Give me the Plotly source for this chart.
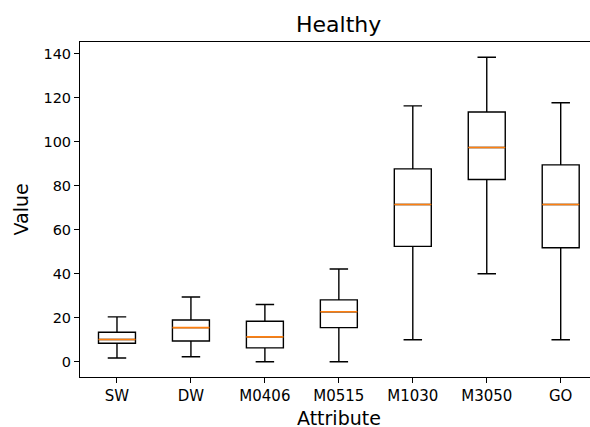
import plotly.graph_objects as go

categories = ["SW", "DW", "M0406", "M0515", "M1030", "M3050", "GO"]
lower_whisker = [1.7, 2.3, 0.0, 0.0, 10.0, 40.0, 10.0]
q1_values = [8.4, 9.4, 6.3, 15.5, 52.4, 82.8, 51.8]
medians = [10.1, 15.5, 11.3, 22.7, 71.4, 97.3, 71.4]
q3_values = [13.4, 19.0, 18.4, 28.1, 87.6, 113.4, 89.4]
upper_whisker = [20.4, 29.4, 26.0, 42.1, 116.2, 138.3, 117.6]
y_ticks = [0, 20, 40, 60, 80, 100, 120, 140]

positions = list(range(1, len(categories) + 1))
half_w = 0.25

fig = go.Figure()
fig.add_trace(go.Box(
    x=positions, q1=q1_values, median=medians, q3=q3_values,
    lowerfence=lower_whisker, upperfence=upper_whisker,
    width=2 * half_w, whiskerwidth=0.5, boxpoints=False,
    fillcolor="white", line=dict(color="black", width=1.4),
    showlegend=False, hoverinfo="skip",
))
mx, my = [], []
for p, m in zip(positions, medians):
    mx += [p - half_w, p + half_w, None]
    my += [m, m, None]
fig.add_trace(go.Scatter(x=mx, y=my, mode="lines",
                         line=dict(color="#ff7f0e", width=1.6),
                         showlegend=False, hoverinfo="skip"))

ymin, ymax = min(lower_whisker), max(upper_whisker)
pad = 0.05 * (ymax - ymin)

font = "DejaVu Sans"
fig.update_layout(
    width=590, height=427,
    margin=dict(l=80, r=0, t=42, b=50, autoexpand=False),
    paper_bgcolor="white", plot_bgcolor="white",
    font=dict(family=font, size=15, color="black"),
    xaxis=dict(range=[0.5, 7.396], tickmode="array", tickvals=positions,
               ticktext=categories, ticks="outside", ticklen=5, tickcolor="black",
               showline=True, linecolor="black", linewidth=1, mirror=True,
               showgrid=False, zeroline=False, tickfont=dict(size=15),
               automargin=False),
    yaxis=dict(range=[ymin - pad, ymax + pad], tickmode="array", tickvals=y_ticks,
               ticks="outside", ticklen=5, tickcolor="black",
               showline=True, linecolor="black", linewidth=1, mirror=False,
               showgrid=False, zeroline=False, tickfont=dict(size=14.5),
               automargin=False),
    annotations=[
        dict(text="Healthy", x=0.5075, y=1, xref="paper", yref="paper",
             xanchor="center", yanchor="bottom", yshift=3, showarrow=False,
             font=dict(size=22)),
        dict(text="Attribute", x=0.5075, y=0, xref="paper", yref="paper",
             xanchor="center", yanchor="top", yshift=-28, showarrow=False,
             font=dict(size=19)),
        dict(text="Value", x=0, y=0.5, xref="paper", yref="paper",
             xanchor="center", yanchor="middle", xshift=-60, textangle=-90,
             showarrow=False, font=dict(size=19)),
    ],
)
fig.write_html("out.html", config={"displayModeBar": False},
               post_script="document.body.style.margin='0';document.body.style.overflow='hidden';")
